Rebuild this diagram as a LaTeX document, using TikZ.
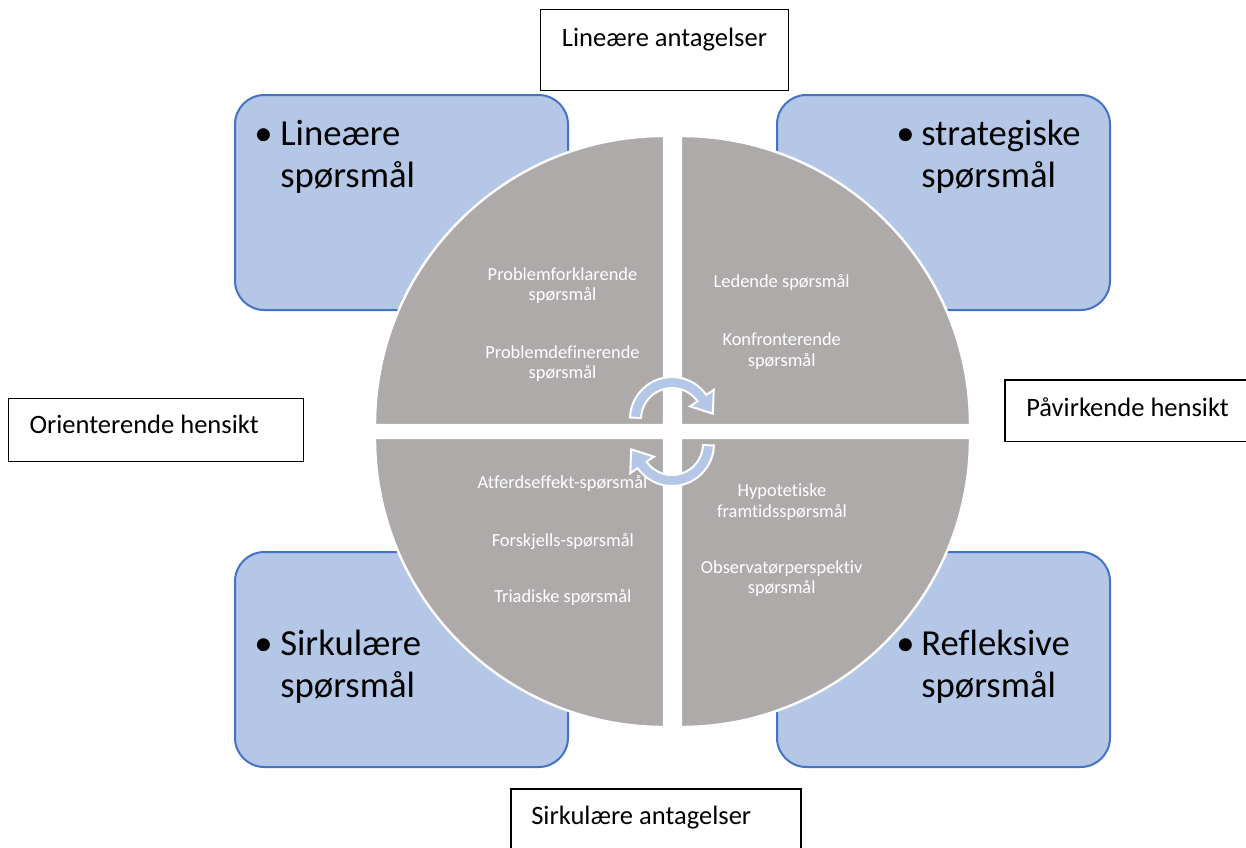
\documentclass[tikz,border=0pt]{standalone}
\usepackage{fontspec}
\setmainfont{Carlito}[Ligatures=NoCommon]
\usetikzlibrary{calc}
\definecolor{boxblue}{HTML}{B4C7E7}
\definecolor{boxedge}{HTML}{4472C4}
\definecolor{quadgray}{HTML}{AEAAAA}
\definecolor{arrowblue}{HTML}{B4C7E7}
\begin{document}
\begin{tikzpicture}[x=0.75pt,y=-0.75pt,
  bluebox/.style={draw=boxedge, line width=1.5pt, fill=boxblue, rounded corners=22pt},
  quad/.style={fill=quadgray, draw=white, line width=1.8pt},
  labelbox/.style={draw=black, line width=0.9pt, fill=white},
  labeltext/.style={font=\fontsize{19.9}{23}\selectfont, inner sep=0pt, anchor=base west},
  bigtext/.style={font=\fontsize{27.5}{31.5}\selectfont, inner sep=0pt, anchor=base west},
  smalltext/.style={font=\fontsize{13.8}{16}\selectfont, text=white, inner sep=0pt, anchor=base},
  cyclearrow/.style={fill=arrowblue, draw=white, line width=1.5pt, line join=miter}]
\useasboundingbox (0,0) rectangle (1246,847);
\clip (0,0) rectangle (1246,847);

% blue corner boxes
\draw[bluebox] (235,95) rectangle (568,310);
\draw[bluebox] (777,95) rectangle (1110,310);
\draw[bluebox] (235,552) rectangle (568,767);
\draw[bluebox] (777,552) rectangle (1110,767);

% texts in blue boxes
\node[bigtext] (b1) at (254,145) {•};
\node[bigtext] (t1a) at (280,145) {Lineære};
\node[bigtext] (t1b) at (280,187) {spørsmål};
\node[bigtext] (b2) at (896,145) {•};
\node[bigtext] (t2a) at (921,145) {strategiske};
\node[bigtext] (t2b) at (921,187) {spørsmål};
\node[bigtext] (b3) at (254,655) {•};
\node[bigtext] (t3a) at (280,655) {Sirkulære};
\node[bigtext] (t3b) at (280,697) {spørsmål};
\node[bigtext] (b4) at (896,655) {•};
\node[bigtext] (t4a) at (921,655) {Refleksive};
\node[bigtext] (t4b) at (921,697) {spørsmål};

% quadrants
\filldraw[quad] (664,425) -- (375,425) arc[start angle=180, end angle=270, radius=289] -- cycle;
\filldraw[quad] (681,425) -- (681,136) arc[start angle=270, end angle=360, radius=289] -- cycle;
\filldraw[quad] (681,438) -- (970,438) arc[start angle=0, end angle=90, radius=289] -- cycle;
\filldraw[quad] (664,438) -- (664,727) arc[start angle=90, end angle=180, radius=289] -- cycle;

% quadrant texts
\node[smalltext] (q1a) at (562.5,280) {Problemforklarende};
\node[smalltext] (q1b) at (562.5,300.5) {spørsmål};
\node[smalltext] (q1c) at (562.5,358.3) {Problemdefinerende};
\node[smalltext] (q1d) at (562.5,378.8) {spørsmål};
\node[smalltext] (q2a) at (781.7,287.3) {Ledende spørsmål};
\node[smalltext] (q2b) at (781.7,345.7) {Konfronterende};
\node[smalltext] (q2c) at (781.7,366.2) {spørsmål};
\node[smalltext] (q3a) at (562.5,488.3) {Atferdseffekt-spørsmål};
\node[smalltext] (q3b) at (562.8,546) {Forskjells-spørsmål};
\node[smalltext] (q3c) at (562.8,602.7) {Triadiske spørsmål};
\node[smalltext] (q4a) at (782,496.7) {Hypotetiske};
\node[smalltext] (q4b) at (782,517.2) {framtidsspørsmål};
\node[smalltext] (q4c) at (781.7,573.3) {Observatørperspektiv};
\node[smalltext] (q4d) at (781.7,593.8) {spørsmål};

% circular arrows
\coordinate (T) at (672,419);
\coordinate (B) at (672,444);
\filldraw[cyclearrow] ($(T)+(182:42)$) arc[start angle=182, end angle=325, radius=42]
  -- ($(T)+(325:51)$) -- ($(T)+(325:36.5)+(55:19)$) -- ($(T)+(325:22)$)
  -- ($(T)+(325:31)$) arc[start angle=325, end angle=182, radius=31] -- cycle;
\filldraw[cyclearrow] ($(B)+(2:42)$) arc[start angle=2, end angle=145, radius=42]
  -- ($(B)+(145:51)$) -- ($(B)+(145:36.5)+(235:19)$) -- ($(B)+(145:22)$)
  -- ($(B)+(145:31)$) arc[start angle=145, end angle=2, radius=31] -- cycle;

% label boxes
\draw[labelbox] (540.7,9.3) rectangle (788.3,90.7);
\node[labeltext] (l1) at (561.7,46.7) {Lineære antagelser};
\draw[labelbox] (8.3,398.3) rectangle (303.3,461.7);
\node[labeltext] (l2) at (29.3,433.3) {Orienterende hensikt};
\draw[labelbox] (1005,380) rectangle (1260,441.7);
\node[labeltext] (l3) at (1026,416.7) {Påvirkende hensikt};
\draw[labelbox] (511,789) rectangle (801,870);
\node[labeltext] (l4) at (531,824) {Sirkulære antagelser};
\end{tikzpicture}
\end{document}
